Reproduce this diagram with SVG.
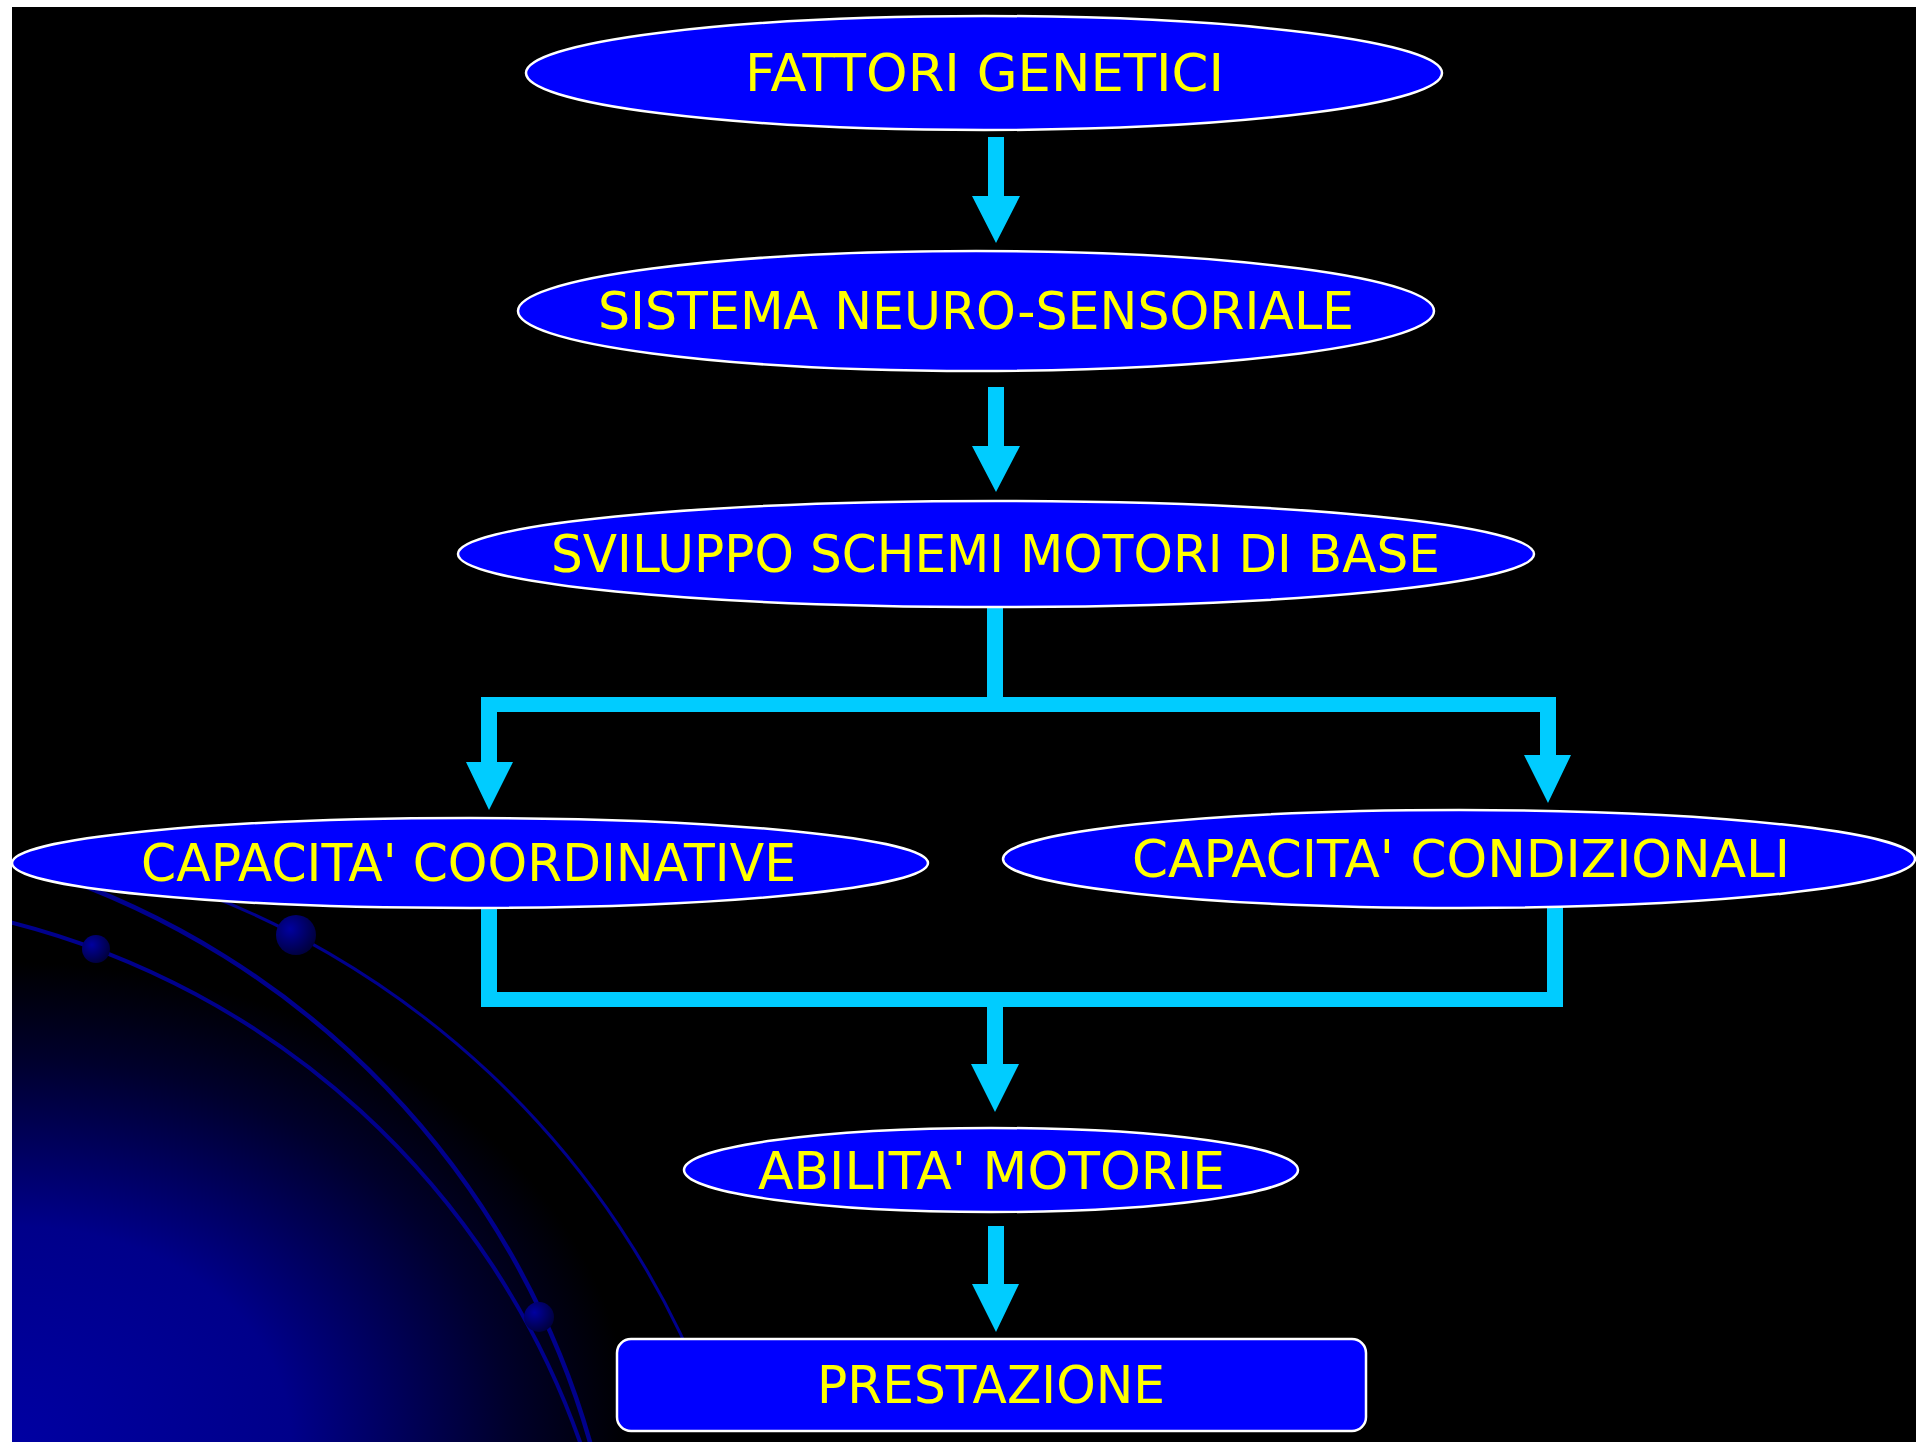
<svg xmlns="http://www.w3.org/2000/svg" width="1916" height="1442" viewBox="0 0 1916 1442">
  <style>
    .node { fill: #0000ff; stroke: #ffffff; stroke-width: 2.5; }
    .label { fill: #ffff00; font-family: "DejaVu Sans", "Liberation Sans", sans-serif; font-size: 52px; text-anchor: middle; }
    .flow { fill: #00ccff; }
    .orbit { fill: none; stroke: #00008c; stroke-linecap: round; }
    .bead { fill: url(#beadFill); }
  </style>
  <defs>
    <radialGradient id="glow" gradientUnits="userSpaceOnUse" cx="0" cy="0" r="1" gradientTransform="translate(12 1442) scale(620 480)">
      <stop offset="0" stop-color="#0000a2"/>
      <stop offset="0.45" stop-color="#00008a"/>
      <stop offset="0.8" stop-color="#00002c"/>
      <stop offset="1" stop-color="#000000"/>
    </radialGradient>
    <radialGradient id="beadFill" cx="0.35" cy="0.35" r="0.7">
      <stop offset="0" stop-color="#0000a0"/>
      <stop offset="1" stop-color="#00003c"/>
    </radialGradient>
    <clipPath id="stage">
      <rect x="12" y="7" width="1904" height="1435"/>
    </clipPath>
  </defs>

  <!-- slide background -->
  <rect x="0" y="0" width="1916" height="1442" fill="#ffffff"/>
  <rect x="12" y="7" width="1904" height="1435" fill="#000000"/>

  <!-- lower-left glow with orbit lines -->
  <g id="decor" clip-path="url(#stage)">
    <rect x="12" y="700" width="900" height="742" fill="url(#glow)"/>
    <path class="orbit" stroke-width="4" d="M 12 922.6 A 817.8 817.8 0 0 1 580 1442"/>
    <path class="orbit" stroke-width="4.5" d="M 40 870 A 846 846 0 0 1 590 1442"/>
    <path class="orbit" stroke-width="3" d="M 150 874.5 A 881 881 0 0 1 709 1400"/>
    <circle class="bead" cx="96" cy="949" r="14"/>
    <circle class="bead" cx="296" cy="935" r="20"/>
    <circle class="bead" cx="539" cy="1317" r="15"/>
  </g>

  <!-- connectors -->
  <g id="connectors">
    <!-- genetic factors -> neuro-sensory system -->
    <polygon class="flow" points="988,137 1004,137 1004,196 1020,196 996,243 972,196 988,196"/>
    <!-- neuro-sensory system -> basic motor schemes -->
    <polygon class="flow" points="988,387 1004,387 1004,446 1020,446 996,492 972,446 988,446"/>
    <!-- fork to the two capacities -->
    <rect class="flow" x="987" y="605" width="16" height="100"/>
    <rect class="flow" x="481" y="697" width="1075" height="15"/>
    <polygon class="flow" points="481,697 497,697 497,762 513,762 489,810 466,762 481,762"/>
    <polygon class="flow" points="1540,697 1556,697 1556,755 1571,755 1548,803 1524,755 1540,755"/>
    <!-- join of the two capacities -->
    <rect class="flow" x="481" y="905" width="16" height="102"/>
    <rect class="flow" x="1547" y="905" width="16" height="102"/>
    <rect class="flow" x="481" y="992" width="1082" height="15"/>
    <polygon class="flow" points="987,1000 1003,1000 1003,1064 1019,1064 995,1112 971,1064 987,1064"/>
    <!-- motor skills -> performance -->
    <polygon class="flow" points="988,1226 1004,1226 1004,1284 1019,1284 996,1332 972,1284 988,1284"/>
  </g>

  <g id="fattori-genetici">
    <ellipse class="node" cx="984" cy="73" rx="458" ry="57"/>
    <text class="label" x="984.5" y="91" textLength="479" lengthAdjust="spacingAndGlyphs">FATTORI GENETICI</text>
  </g>

  <g id="sistema-neuro-sensoriale">
    <ellipse class="node" cx="976" cy="311" rx="458" ry="60"/>
    <text class="label" x="976" y="329" textLength="756" lengthAdjust="spacingAndGlyphs">SISTEMA NEURO-SENSORIALE</text>
  </g>

  <g id="sviluppo-schemi-motori">
    <ellipse class="node" cx="996" cy="554" rx="538" ry="53"/>
    <text class="label" x="995.5" y="572" textLength="889" lengthAdjust="spacingAndGlyphs">SVILUPPO SCHEMI MOTORI DI BASE</text>
  </g>

  <g id="capacita-coordinative">
    <ellipse class="node" cx="470" cy="863" rx="458" ry="45"/>
    <text class="label" x="468.5" y="881" textLength="655" lengthAdjust="spacingAndGlyphs">CAPACITA' COORDINATIVE</text>
  </g>

  <g id="capacita-condizionali">
    <ellipse class="node" cx="1459" cy="859" rx="456" ry="49"/>
    <text class="label" x="1461" y="877" textLength="658" lengthAdjust="spacingAndGlyphs">CAPACITA' CONDIZIONALI</text>
  </g>

  <g id="abilita-motorie">
    <ellipse class="node" cx="991" cy="1170" rx="307" ry="42"/>
    <text class="label" x="991.5" y="1189" textLength="467" lengthAdjust="spacingAndGlyphs">ABILITA' MOTORIE</text>
  </g>

  <g id="prestazione">
    <rect class="node" x="617" y="1339" width="749" height="92" rx="14" ry="14"/>
    <text class="label" x="991" y="1403" textLength="348" lengthAdjust="spacingAndGlyphs">PRESTAZIONE</text>
  </g>
</svg>
